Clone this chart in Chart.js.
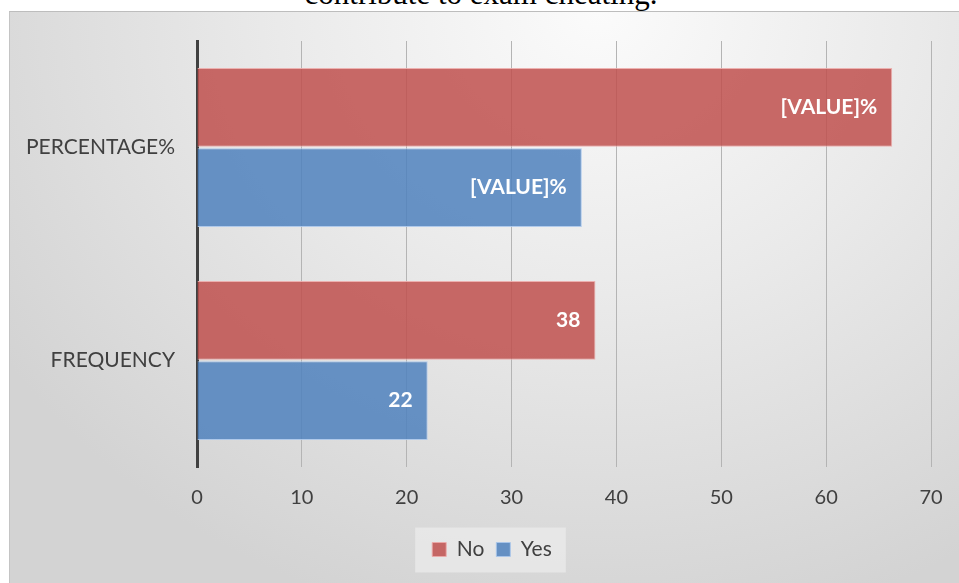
<!DOCTYPE html>
<html>
<head>
<meta charset="utf-8">
<script src="https://cdn.jsdelivr.net/npm/chart.js@4"></script>
<style>
  html, body { margin: 0; padding: 0; background: #fff; overflow: hidden; }
  body { width: 959px; height: 583px; position: relative; }
  #title {
    position: absolute; left: 0; width: 962px; top: -21px;
    text-align: center; font-family: "Liberation Serif", serif; font-size: 31px;
    line-height: 30px; color: #000; white-space: nowrap;
  }
  #panel {
    position: absolute; left: 9px; top: 11px; width: 950px; height: 572px;
    border-top: 1px solid #bdbdbd; border-left: 1px solid #c4c4c4;
    box-sizing: border-box;
    background: radial-gradient(ellipse 75% 110% at 62% 0%, #fbfbfb 0%, #eaeaea 45%, #d3d3d3 100%);
  }
  canvas { position: absolute; left: -1px; top: -1px; }
</style>
</head>
<body>
<div id="title">contribute to exam cheating.</div>
<div id="panel"><canvas id="chart" width="950" height="572"></canvas></div>
<script>
// categories, top to bottom
const categories = ["PERCENTAGE%", "FREQUENCY"];
const noValues = [66.3, 38];
const yesValues = [36.7, 22];
// label text shown inside the bars
const noLabels = ["[VALUE]%", "38"];
const yesLabels = ["[VALUE]%", "22"];

const font = "Lato";

// value labels at the end of each bar
const barLabels = {
    id: "barLabels",
    afterDatasetsDraw(chart) {
        const ctx = chart.ctx;
        ctx.save();
        ctx.fillStyle = "#ffffff";
        ctx.font = "bold 21px " + font;
        ctx.textAlign = "right";
        ctx.textBaseline = "middle";
        chart.data.datasets.forEach((ds, i) => {
            chart.getDatasetMeta(i).data.forEach((bar, j) => {
                ctx.fillText(ds.valueLabels[j], bar.x - 15, bar.y);
            });
        });
        ctx.restore();
    }
};

// nudge the legend a bit right and draw a lighter box behind it
const legendBox = {
    id: "legendBox",
    afterLayout(chart) {
        chart.legend.left += 22;
        chart.legend.right += 22;
    },
    beforeDraw(chart) {
        const boxes = chart.legend.legendHitBoxes;
        if (!boxes || !boxes.length) return;
        const left = Math.min(...boxes.map(b => b.left)) - 17;
        const right = Math.max(...boxes.map(b => b.left + b.width)) + 14;
        const mid = boxes[0].top + boxes[0].height / 2;
        const ctx = chart.ctx;
        ctx.save();
        ctx.fillStyle = "rgba(235,235,235,0.75)";
        ctx.fillRect(left, mid - 22, right - left, 45);
        ctx.restore();
    }
};

new Chart(document.getElementById("chart"), {
    type: "bar",
    data: {
        labels: categories,
        datasets: [
            {
                label: "No",
                data: noValues,
                valueLabels: noLabels,
                backgroundColor: "rgba(192,80,77,0.85)",
                borderColor: "rgba(236,170,168,0.9)",
                borderWidth: 1
            },
            {
                label: "Yes",
                data: yesValues,
                valueLabels: yesLabels,
                backgroundColor: "rgba(79,129,189,0.85)",
                borderColor: "rgba(170,198,235,0.9)",
                borderWidth: 1
            }
        ]
    },
    options: {
        indexAxis: "y",
        responsive: false,
        animation: false,
        categoryPercentage: 0.755,
        barPercentage: 0.98,
        layout: { padding: { left: 0, top: 30, right: 28, bottom: 13 } },
        plugins: {
            legend: {
                position: "bottom",
                labels: {
                    font: { family: font, size: 21 },
                    color: "#404040",
                    boxWidth: 14,
                    boxHeight: 14,
                    padding: 12
                }
            },
            tooltip: { enabled: false }
        },
        scales: {
            x: {
                min: 0,
                max: 70,
                ticks: {
                    stepSize: 10,
                    color: "#404040",
                    font: { family: font, size: 20 },
                    padding: 19
                },
                grid: { color: "#b4b4b4", lineWidth: 1, drawTicks: false },
                border: { display: false },
                afterFit(scale) {
                    scale.height = 60;
                    scale.paddingLeft = 0;
                    scale.paddingRight = 0;
                }
            },
            y: {
                ticks: {
                    color: "#404040",
                    font: { family: font, size: 21 },
                    padding: 22
                },
                grid: { display: true, drawOnChartArea: false, drawTicks: false },
                border: { display: true, color: "#404040", width: 3 },
                afterFit(scale) {
                    scale.width = 188;
                    scale.paddingTop = 0;
                    scale.paddingBottom = 0;
                }
            }
        }
    },
    plugins: [legendBox, barLabels]
});
</script>
</body>
</html>
